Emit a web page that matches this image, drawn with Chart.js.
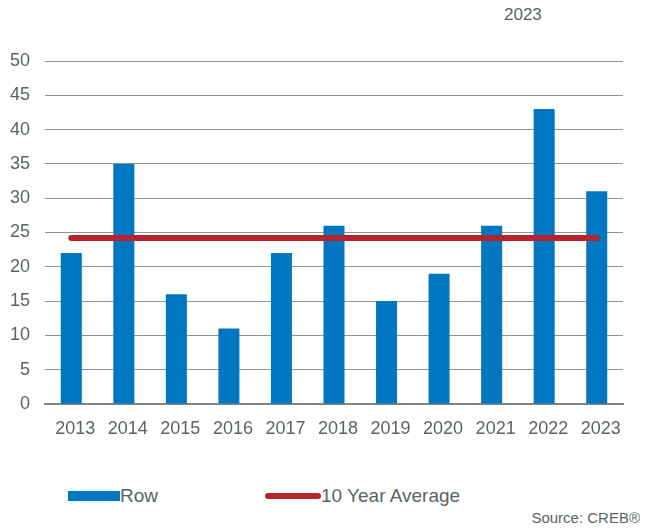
<!DOCTYPE html>
<html>
<head>
<meta charset="utf-8">
<script src="https://cdn.jsdelivr.net/npm/chart.js@4"></script>
<style>
  body { margin:0; background:#fff; font-family:"Liberation Sans", Arial, sans-serif; }
  #wrap { position:relative; width:646px; height:529px; overflow:hidden; }
  #box { position:absolute; left:0; top:0; width:646px; height:440px; }
  .yr { position:absolute; left:504px; top:5px; font-size:17px; color:#5a6464; }
  .legend { position:absolute; top:485px; font-size:19px; color:#5a6464; display:flex; align-items:center; }
  .src { position:absolute; right:6px; top:509px; font-size:15px; color:#5a6464; }
</style>
</head>
<body>
<div id="wrap">
  <div class="yr">2023</div>
  <div id="box"><canvas id="c"></canvas></div>
  <div class="legend" style="left:68px"><span style="display:inline-block;width:52px;height:10px;background:#0077c0"></span>Row</div>
  <div class="legend" style="left:265px"><span style="display:inline-block;width:56px;height:6px;border-radius:3px;background:#b5232d"></span>10 Year Average</div>
  <div class="src">Source: CREB®</div>
</div>
<script>
// data
const years = ['2013','2014','2015','2016','2017','2018','2019','2020','2021','2022','2023'];
const rowValues = [22, 35, 16, 11, 22, 26, 15, 19, 26, 43, 31];
const tenYearAvg = [24.2, 24.2, 24.2, 24.2, 24.2, 24.2, 24.2, 24.2, 24.2, 24.2, 24.2];

const txt = '#5a6464';
const grid = '#8c9696';

new Chart(document.getElementById('c'), {
  data: {
    labels: years,
    datasets: [
      { type:'line', label:'10 Year Average', data:tenYearAvg, borderColor:'#b5232d',
        borderWidth:6, borderCapStyle:'round', pointRadius:0, order:0 },
      { type:'bar', label:'Row', data:rowValues, backgroundColor:'#0077c0',
        categoryPercentage:1, barPercentage:0.4, order:1 }
    ]
  },
  options: {
    responsive:true, maintainAspectRatio:false, animation:false,
    layout: { padding: { top:61, right:23, bottom:0, left:0 } },
    plugins: { legend:{ display:false }, tooltip:{ enabled:false } },
    scales: {
      x: {
        grid:{ display:false }, border:{ color:'#7c8686', width:2 },
        ticks:{ color:txt, font:{ family:'Liberation Sans', size:18 }, padding:6, maxRotation:0, labelOffset:4 },
        afterFit: s => { s.height = 36; }
      },
      y: {
        min:0, max:50,
        border:{ display:false },
        grid:{ color:grid, drawTicks:false, lineWidth:1 },
        ticks:{ stepSize:5, color:txt, font:{ family:'Liberation Sans', size:18 }, padding:15 },
        afterFit: s => { s.width = 45; }
      }
    }
  }
});
</script>
</body>
</html>
